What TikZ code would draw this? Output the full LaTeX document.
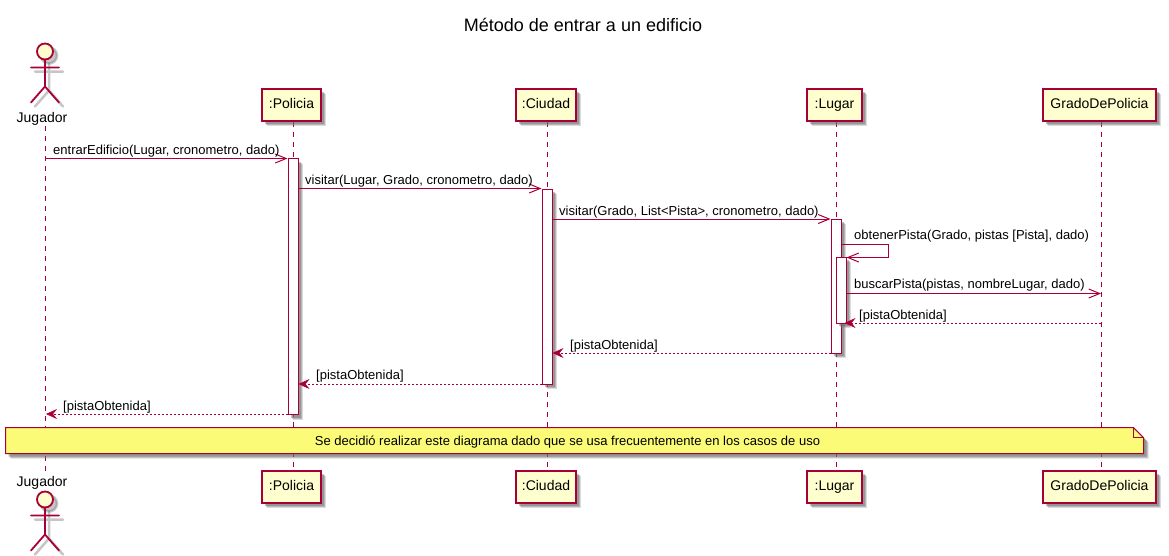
\documentclass[tikz,border=0pt]{standalone}
\usepackage{fontspec}
\setmainfont{Liberation Sans}
\usetikzlibrary{arrows.meta,backgrounds,calc,shadows,positioning}
\definecolor{umlred}{HTML}{A80036}
\definecolor{umlfill}{HTML}{FEFECE}
\definecolor{umlnote}{HTML}{FBFB77}
\definecolor{umlshadow}{HTML}{707070}
\tikzset{
  softshadow/.style={
    drop shadow={shadow xshift=5pt,shadow yshift=-5pt,fill=umlshadow,opacity=.25},
    drop shadow={shadow xshift=4pt,shadow yshift=-4pt,fill=umlshadow,opacity=.35},
    drop shadow={shadow xshift=3pt,shadow yshift=-3pt,fill=umlshadow,opacity=.45}},
  partbox/.style={draw=umlred,line width=1.5pt,fill=umlfill,minimum height=32pt,inner sep=0pt,text height=10.5pt,text depth=3pt,font=\fontsize{14}{16}\selectfont,text=black,softshadow},
  actorlabel/.style={inner sep=0pt,font=\fontsize{14}{16}\selectfont,text=black},
  bar/.style={draw=umlred,line width=1pt,fill=white,minimum width=10pt,inner sep=0pt,softshadow},
  life/.style={draw=umlred,line width=1pt,dash pattern=on 5pt off 5pt},
  msgtext/.style={inner sep=0pt,anchor=base west,font=\fontsize{13}{15}\selectfont,text=black},
  call/.style={draw=umlred,line width=1pt,-{Straight Barb[length=11pt,width=9pt,line width=1pt]}},
  reply/.style={draw=umlred,line width=1pt,dash pattern=on 2pt off 2pt,-{Stealth[length=11pt,width=10pt,inset=4pt,line width=.6pt,sep=0pt]}},
  actorline/.style={draw=umlred,line width=1.8pt,line cap=round},
  actorshadow/.style={draw=umlshadow,opacity=.4,line width=2.5pt,line cap=round},
}
\newcommand{\umlactor}[2]{%
  \begin{scope}[shift={(#1,#2)}]
    \begin{scope}[shift={(4,4)}]
      \draw[actorshadow,fill=umlshadow] (0,0) circle (8);
      \draw[actorshadow] (0,8) -- (0,35) (-14,16) -- (14,16) (-14,51) -- (0,35) -- (14,51);
    \end{scope}
    \draw[actorline,fill=umlfill] (0,0) circle (8);
    \draw[actorline] (0,8) -- (0,35) (-14,16) -- (14,16) (-14,51) -- (0,35) -- (14,51);
  \end{scope}}
\begin{document}
\begin{tikzpicture}[x=1pt,y=-1pt]
\path[use as bounding box] (0,0) rectangle (1169,555);
\node[inner sep=0pt,font=\fontsize{18}{20}\selectfont,text=black] (title) at (583,25) {Método de entrar a un edificio};

\umlactor{45}{51.5}
\umlactor{45}{499.5}
\node[actorlabel,anchor=base] (jt) at (42,122.7) {Jugador};
\node[actorlabel,anchor=base] (jb) at (42,486) {Jugador};

\node[partbox,minimum width=59pt] (pt) at (291.5,105) {:Policia};
\node[partbox,minimum width=59pt] (pb) at (291.5,487) {:Policia};
\node[partbox,minimum width=60pt] (ct) at (546,105) {:Ciudad};
\node[partbox,minimum width=60pt] (cb) at (546,487) {:Ciudad};
\node[partbox,minimum width=55pt] (lt) at (834.5,105) {:Lugar};
\node[partbox,minimum width=55pt] (lb) at (834.5,487) {:Lugar};
\node[partbox,minimum width=113pt] (gt) at (1099.5,105) {GradoDePolicia};
\node[partbox,minimum width=113pt] (gb) at (1099.5,487) {GradoDePolicia};

\coordinate (jt1) at (45,126); \coordinate (jb1) at (45,472);
\coordinate (pl) at (293.5,0); \coordinate (cl) at (547,0);
\coordinate (ll) at (836,0); \coordinate (gl) at (1101,0);
\begin{scope}[on background layer]
  \draw[life] (jt1) -- (jb1);
  \draw[life] (pl |- pt.south) -- (pl |- pb.north);
  \draw[life] (cl |- ct.south) -- (cl |- cb.north);
  \draw[life] (ll |- lt.south) -- (ll |- lb.north);
  \draw[life] (gl |- gt.south) -- (gl |- gb.north);
\end{scope}

\node[bar,minimum height=256pt] (ap) at (293,286.5) {};
\node[bar,minimum height=195pt] (ac) at (547,286.5) {};
\node[bar,minimum height=134pt] (al) at (836,286) {};
\node[bar,minimum height=66pt] (an) at (841,290) {};

\coordinate (m1) at (45,158.5);
\draw[call] (m1) -- (m1 -| ap.west);
\node[msgtext] (t1) at (53,154) {entrarEdificio(Lugar, cronometro, dado)};
\coordinate (m2) at (298,188.5);
\draw[call] (m2) -- (m2 -| ac.west);
\node[msgtext] (t2) at (305,184) {visitar(Lugar, Grado, cronometro, dado)};
\coordinate (m3) at (552,219);
\draw[call] (m3) -- (m3 -| al.west);
\node[msgtext] (t3) at (559,215) {visitar(Grado, List<Pista>, cronometro, dado)};
\coordinate (m4a) at (841,244.5); \coordinate (m4b) at (888.5,244.5); \coordinate (m4c) at (888.5,257.5);
\draw[call] (m4a) -- (m4b) -- (m4c) -- (m4c -| an.east);
\node[msgtext] (t4) at (854,239.5) {obtenerPista(Grado, pistas [Pista], dado)};
\coordinate (m5) at (846,293.5);
\draw[call] (m5) -- (m5 -| gl);
\node[msgtext] (t5) at (854,288.5) {buscarPista(pistas, nombreLugar, dado)};
\coordinate (m6) at (1101,323);
\draw[reply] (m6) -- ([xshift=-2pt]m6 -| an.east);
\node[msgtext] (t6) at (859,319) {[pistaObtenida]};
\coordinate (m7) at (831,353);
\draw[reply] (m7) -- (m7 -| ac.east);
\node[msgtext] (t7) at (570,349) {[pistaObtenida]};
\coordinate (m8) at (542,384);
\draw[reply] (m8) -- (m8 -| ap.east);
\node[msgtext] (t8) at (316,379) {[pistaObtenida]};
\coordinate (m9) at (288,414);
\draw[reply] (m9) -- ([xshift=1pt]m9 -| jt1);
\node[msgtext] (t9) at (63,410) {[pistaObtenida]};

\foreach \s/\o in {5/.25,4/.35,3/.45}{
  \fill[umlshadow,opacity=\o,shift={(\s,\s)}] (5.5,427.5) -- (1133.3,427.5) -- (1143.5,437.7) -- (1143.5,453.7) -- (5.5,453.7) -- cycle;
}
\draw[draw=umlred,line width=1pt,fill=umlnote] (5.5,427.5) -- (1133.3,427.5) -- (1143.5,437.7) -- (1143.5,453.7) -- (5.5,453.7) -- cycle;
\draw[draw=umlred,line width=1pt] (1133.3,427.5) -- (1133.3,437.7) -- (1143.5,437.7);
\node[msgtext,anchor=base] (note) at (567.5,445) {Se decidió realizar este diagrama dado que se usa frecuentemente en los casos de uso};
\end{tikzpicture}
\end{document}
